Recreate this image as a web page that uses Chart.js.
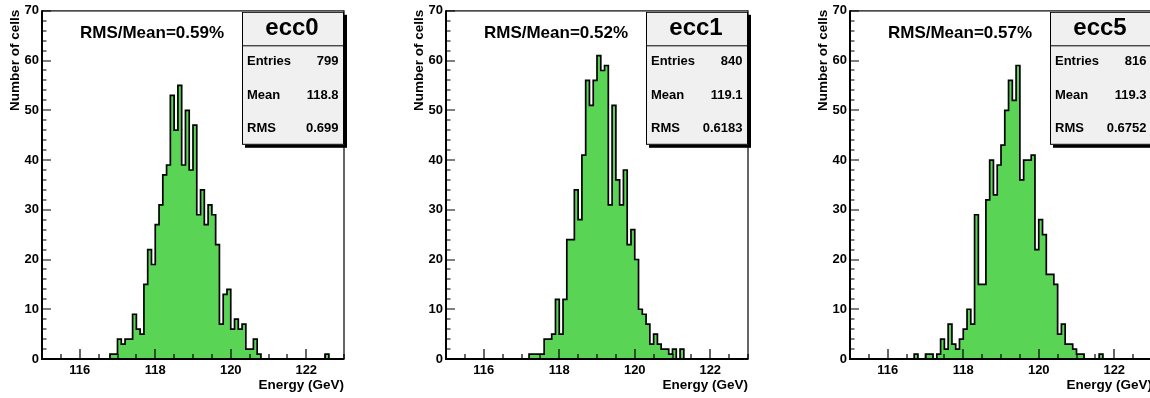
<!DOCTYPE html>
<html>
<head>
<meta charset="utf-8">
<script src="https://cdn.jsdelivr.net/npm/chart.js@4.4.0/dist/chart.umd.min.js"></script>
<style>
html,body{margin:0;padding:0;background:#fff;overflow:hidden;width:1150px;height:398px;}
#wrap{position:relative;width:1150px;height:398px;overflow:hidden;background:#fff;}
.panel{position:absolute;top:0;width:404px;height:398px;}
canvas{display:block;}
</style>
</head>
<body>
<div id="wrap">
  <div class="panel" style="left:0px"><canvas id="c0" width="404" height="398"></canvas></div>
  <div class="panel" style="left:404px"><canvas id="c1" width="404" height="398"></canvas></div>
  <div class="panel" style="left:808px"><canvas id="c2" width="404" height="398"></canvas></div>
</div>
<script>
// ---------------- data ----------------
const xMin = 115, xMax = 123, binWidth = 0.1;
const yMin = 0, yMax = 70;
const xTickValues = [116, 118, 120, 122];
const yTickValues = [0, 10, 20, 30, 40, 50, 60, 70];
const panelNames = ['ecc0', 'ecc1', 'ecc5'];

const ecc0Counts = [
  0,0,0,0,0,0,0,0,0,0, 0,0,0,0,0,0,0,0,1,1,
  4,3,4,4,9,6,5,15,22,19, 27,31,37,39,53,46,55,39,50,38,
  47,29,34,27,31,29,23,7,13,14, 6,8,6,7,2,2,4,1,0,0,
  0,0,0,0,0,0,0,0,0,0, 0,0,0,0,0,1,0,0,0,0
];
const ecc1Counts = [
  0,0,0,0,0,0,0,0,0,0, 0,0,0,0,0,0,0,0,0,0,
  0,0,1,1,1,1,4,4,5,12, 5,12,24,24,34,28,41,56,51,56,
  61,58,59,31,51,36,31,38,23,26, 20,10,9,7,3,5,3,2,2,1,
  2,0,2,0,0,0,0,0,0,0, 0,0,0,0,0,0,0,0,0,0
];
const ecc5Counts = [
  0,0,0,0,0,0,0,0,0,0, 0,0,0,0,0,0,0,1,0,0,
  1,1,0,1,4,2,7,3,2,4, 6,10,7,29,15,15,32,40,33,39,
  43,50,56,52,59,36,40,40,41,22, 28,25,17,17,15,5,7,3,3,2,
  1,1,0,0,0,0,1,0,0,0, 0,0,0,0,0,0,0,0,0,0
];
const allCounts = [ecc0Counts, ecc1Counts, ecc5Counts];

const statEntries = ['799', '840', '816'];
const statMean = ['118.8', '119.1', '119.3'];
const statRMS = ['0.699', '0.6183', '0.6752'];
const rmsOverMean = ['0.59%', '0.52%', '0.57%'];
const xTitle = 'Energy (GeV)';
const yTitle = 'Number of cells';

// ---------------- style ----------------
const FONT = "'Liberation Sans', Arial, Helvetica, sans-serif";
Chart.defaults.font.family = FONT;
const FILL = 'rgb(89,212,84)';

const rootStyle = {
  id: 'rootStyle',
  afterDatasetsDraw(chart) {
    const {ctx, chartArea: a, scales: {x, y}} = chart;
    ctx.save();
    ctx.fillStyle = '#000';
    // frame (thin top/right)
    ctx.fillRect(a.left, a.top - 0.5, a.right - a.left, 1.2);
    ctx.fillRect(a.right - 0.6, a.top - 0.5, 1.2, a.bottom - a.top);
    // axes (thick left/bottom)
    ctx.fillRect(a.left - 1, a.top - 0.5, 2, a.bottom - a.top + 1.5);
    ctx.fillRect(a.left - 1, a.bottom - 1, a.right - a.left + 1.5, 2);
    // x ticks (inside)
    ctx.strokeStyle = '#000';
    ctx.lineWidth = 1.2;
    ctx.beginPath();
    for (let v = xMin; v <= xMax + 1e-9; v += 0.5) {
      const px = Math.round(x.getPixelForValue(v));
      const major = xTickValues.includes(v);
      ctx.moveTo(px, a.bottom);
      ctx.lineTo(px, a.bottom - (major ? 10 : 5));
    }
    // y ticks (inside)
    for (let v = yMin; v <= yMax; v += 2) {
      const py = Math.round(y.getPixelForValue(v));
      const major = yTickValues.includes(v);
      ctx.moveTo(a.left, py);
      ctx.lineTo(a.left + (major ? 9 : 4.5), py);
    }
    ctx.stroke();
    ctx.restore();
  },
  afterDraw(chart, args, opts) {
    const {ctx, chartArea: a} = chart;
    const i = opts.idx;
    ctx.save();
    ctx.fillStyle = '#000';
    // axis titles
    ctx.font = `bold 13.5px ${FONT}`;
    ctx.textAlign = 'right';
    ctx.textBaseline = 'middle';
    ctx.fillText(xTitle, a.right, 385);
    ctx.save();
    ctx.translate(15, a.top - 1);
    ctx.rotate(-Math.PI / 2);
    ctx.fillText(yTitle, 0, 0);
    ctx.restore();
    // RMS/Mean label
    ctx.font = `bold 17px ${FONT}`;
    ctx.textAlign = 'center';
    ctx.fillText('RMS/Mean=' + rmsOverMean[i], a.left + 110, 33.5);
    // stat box
    const bl = a.right - 102, br = a.right, bt = a.top + 1, bb = a.top + 134;
    const sep = a.top + 34.5;
    ctx.fillStyle = '#000';
    ctx.fillRect(bl + 3, bt + 3, br - bl, bb - bt);
    ctx.fillStyle = 'rgb(240,240,240)';
    ctx.fillRect(bl, bt, br - bl, bb - bt);
    ctx.strokeStyle = '#000';
    ctx.lineWidth = 1;
    ctx.strokeRect(bl + 0.5, bt + 0.5, br - bl - 1, bb - bt - 1);
    ctx.beginPath();
    ctx.moveTo(bl, sep + 0.5); ctx.lineTo(br, sep + 0.5);
    ctx.stroke();
    ctx.fillStyle = '#000';
    ctx.font = `bold 24px ${FONT}`;
    ctx.textAlign = 'center';
    ctx.fillText(panelNames[i], (bl + br) / 2 - 1, (bt + sep) / 2);
    ctx.font = `bold 13px ${FONT}`;
    const rows = [['Entries', statEntries[i]], ['Mean', statMean[i]], ['RMS', statRMS[i]]];
    const rowY = [a.top + 50.5, a.top + 84.5, a.top + 117.5];
    rows.forEach((r, k) => {
      ctx.textAlign = 'left';
      ctx.fillText(r[0], bl + 5, rowY[k]);
      ctx.textAlign = 'right';
      ctx.fillText(r[1], br - 5.5, rowY[k]);
    });
    ctx.restore();
  }
};

function makeChart(canvasId, counts, idx) {
  const pts = counts.map((c, k) => ({x: Math.round((xMin + k * binWidth) * 10) / 10, y: c}));
  pts.push({x: xMax, y: 0});
  return new Chart(document.getElementById(canvasId), {
    type: 'line',
    data: {
      datasets: [{
        data: pts,
        stepped: true,
        fill: 'origin',
        backgroundColor: FILL,
        borderColor: '#000',
        borderWidth: 1.7,
        pointRadius: 0,
        tension: 0
      }]
    },
    options: {
      responsive: false,
      animation: false,
      events: [],
      layout: {padding: {left: 0, top: 8, right: 60, bottom: 0}},
      plugins: {legend: {display: false}, tooltip: {enabled: false}, rootStyle: {idx}},
      scales: {
        x: {
          type: 'linear', min: xMin, max: xMax,
          grid: {display: false, drawTicks: false}, border: {display: false},
          afterBuildTicks: s => { s.ticks = xTickValues.map(v => ({value: v})); },
          afterFit: s => { s.height = 39; },
          ticks: {padding: 4, color: '#000', font: {size: 13, weight: 'bold'}, maxRotation: 0, autoSkip: false}
        },
        y: {
          min: yMin, max: yMax,
          grid: {display: false, drawTicks: false}, border: {display: false},
          afterBuildTicks: s => { s.ticks = yTickValues.map(v => ({value: v})); },
          afterFit: s => { s.width = 42; },
          ticks: {padding: 3, color: '#000', font: {size: 13, weight: 'bold'}, autoSkip: false}
        }
      }
    },
    plugins: [rootStyle]
  });
}

allCounts.forEach((c, i) => makeChart('c' + i, c, i));
</script>
</body>
</html>
